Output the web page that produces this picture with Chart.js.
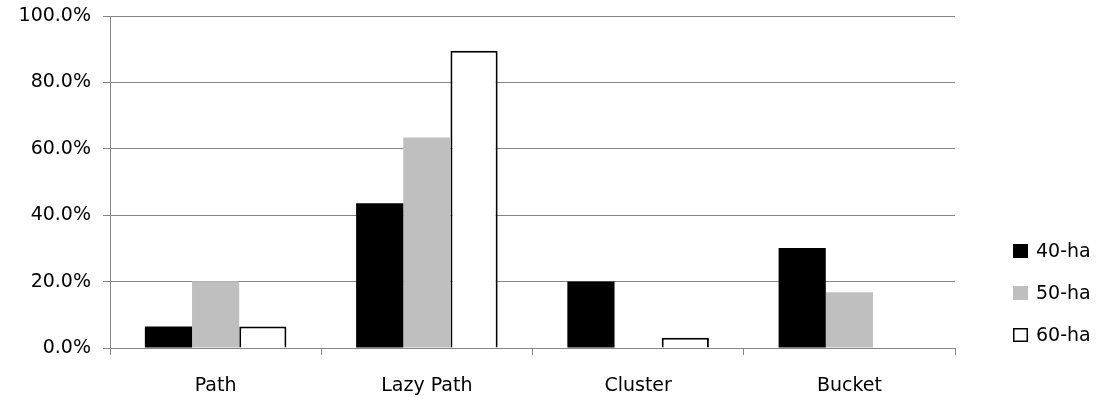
<!DOCTYPE html>
<html lang="en">
<head>
    <meta charset="UTF-8">
    <title>Hash comparison</title>
    <script src="https://cdn.jsdelivr.net/npm/chart.js"></script>
    <style>
        html, body { margin: 0; padding: 0; background: #fff; overflow: hidden; }
    </style>
</head>
<body>
<canvas id="grafico" width="1104" height="398"></canvas>

<script>
    const categorias = ['Path', 'Lazy Path', 'Cluster', 'Bucket'];
    const series = ['40-ha', '50-ha', '60-ha'];
    const valores40 = [6.5, 43.6, 20.0, 30.1];
    const valores50 = [20.1, 63.4, 0, 16.8];
    const valores60 = [6.5, 89.5, 3.1, 0];
    const ticksY = [0, 20, 40, 60, 80, 100];

    const fonte = '"DejaVu Sans", sans-serif';
    const cinzaEixo = '#868686';

    // legenda desenhada a mao, do lado direito
    const legendaDireita = {
        id: 'legendaDireita',
        afterDraw(chart) {
            const ctx = chart.ctx;
            ctx.save();
            ctx.font = '19px ' + fonte;
            ctx.textBaseline = 'middle';
            chart.data.datasets.forEach((ds, i) => {
                const y = 251 + i * 42;
                ctx.fillStyle = ds.backgroundColor;
                ctx.fillRect(1013, y - 7, 15, 14);
                if (ds.borderWidth) {
                    ctx.strokeStyle = '#000';
                    ctx.lineWidth = 1.5;
                    ctx.strokeRect(1013.75, y - 6.25, 13.5, 12.5);
                }
                ctx.fillStyle = '#000';
                ctx.fillText(ds.label, 1036, y + 1);
            });
            ctx.restore();
        }
    };

    new Chart(document.getElementById('grafico').getContext('2d'), {
        type: 'bar',
        data: {
            labels: categorias,
            datasets: [
                { label: series[0], data: valores40, backgroundColor: '#000000', borderWidth: 0 },
                { label: series[1], data: valores50, backgroundColor: '#bfbfbf', borderWidth: 0 },
                { label: series[2], data: valores60, backgroundColor: '#ffffff', borderColor: '#000000', borderWidth: 2 }
            ]
        },
        options: {
            responsive: false,
            animation: false,
            layout: { padding: { top: 0, right: 149, left: 0, bottom: 0 } },
            datasets: {
                bar: { barPercentage: 1, categoryPercentage: 0.67 }
            },
            plugins: {
                legend: { display: false },
                tooltip: { enabled: false }
            },
            scales: {
                x: {
                    afterFit: s => { s.height = 50; },
                    grid: {
                        offset: true,
                        drawOnChartArea: false,
                        tickLength: 7,
                        color: cinzaEixo
                    },
                    border: { color: cinzaEixo, width: 1 },
                    ticks: {
                        color: '#000',
                        padding: 20,
                        maxRotation: 0,
                        font: { family: fonte, size: 19 }
                    }
                },
                y: {
                    min: 0,
                    max: 100,
                    afterFit: s => { s.width = 110; s.paddingTop = 16; },
                    afterBuildTicks: s => { s.ticks = ticksY.map(v => ({ value: v })); },
                    grid: {
                        color: cinzaEixo,
                        tickLength: 7
                    },
                    border: { color: cinzaEixo, width: 1 },
                    ticks: {
                        color: '#000',
                        padding: 12,
                        font: { family: fonte, size: 19 },
                        callback: v => v.toFixed(1) + '%'
                    }
                }
            }
        },
        plugins: [legendaDireita]
    });
</script>
</body>
</html>
